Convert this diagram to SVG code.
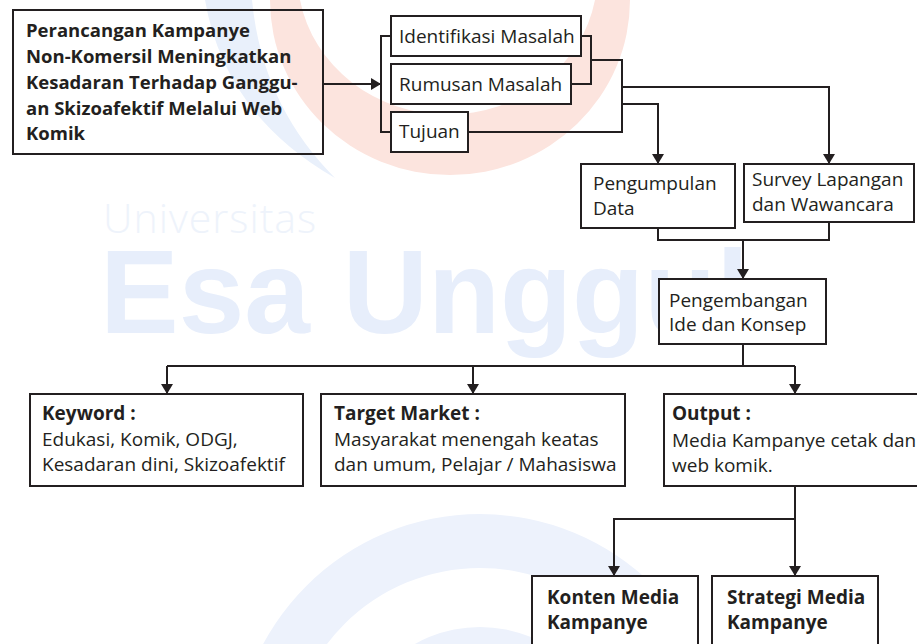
<svg xmlns="http://www.w3.org/2000/svg" width="917" height="644" viewBox="0 0 917 644">
  <defs>
    <marker id="arrow" markerUnits="userSpaceOnUse" markerWidth="12" markerHeight="12" refX="10" refY="6" orient="auto">
      <path d="M0,0 L10,6 L0,12 Z" fill="#231f20"/>
    </marker>
    <style>
      .box { fill: #ffffff; stroke: #231f20; stroke-width: 2; }
      .open { fill: none; stroke: #231f20; stroke-width: 2; }
      .ln { fill: none; stroke: #231f20; stroke-width: 2; }
      .arr { marker-end: url(#arrow); }
      .t { font-family: "Open Sans", "Noto Sans", "DejaVu Sans", sans-serif; font-size: 19px; fill: #231f20; }
      .b { font-weight: bold; }
      .title { font-size: 18.5px; }
    </style>
  </defs>
  <rect width="917" height="644" fill="#ffffff"/>

  <!-- faint watermark -->
  <g id="watermark">
    <path d="M270,0 A180,175 0 0 0 630,0 L595,0 A150,140 0 0 1 300,0 Z" fill="#fce4de"/>
    <path d="M205,0 Q225,115 335,178 Q262,105 252,0 Z" fill="#e9f0fb"/>
    <path d="M234,760 A246,246 0 0 1 726,760 L672,760 A192,192 0 0 0 288,760 Z" fill="#edf2fc"/>
    <path d="M347,760 A133,133 0 0 1 613,760 L573,760 A93,93 0 0 0 387,760 Z" fill="#edf2fc"/>
    <text font-family="'Liberation Sans', Arial, sans-serif"><tspan x="103" y="233" font-family="'Open Sans', 'Noto Sans', sans-serif" font-size="41" font-weight="300" letter-spacing="1" fill="#eef3fb">Universitas </tspan><tspan x="100" y="333" font-size="118" font-weight="bold" fill="#e7eefb">Esa Unggul</tspan></text>
  </g>

  <!-- connectors -->
  <g id="connectors">
    <path class="ln arr" d="M323,84 H381"/>
    <path class="ln" d="M391,36 H381 V132 H391"/>
    <path class="ln" d="M581,36 H591 V84 H571"/>
    <path class="ln" d="M591,60 H622 V132 H468"/>
    <path class="ln arr" d="M622,87 H829 V164"/>
    <path class="ln arr" d="M622,104 H658 V164"/>
    <path class="ln" d="M658,228 V240 H829 V222"/>
    <path class="ln arr" d="M743,240 V279"/>
    <path class="ln" d="M743,344 V366"/>
    <path class="ln" d="M167,366 H795"/>
    <path class="ln arr" d="M167,366 V394"/>
    <path class="ln arr" d="M473,366 V394"/>
    <path class="ln arr" d="M795,366 V394"/>
    <path class="ln arr" d="M795,486 V576"/>
    <path class="ln arr" d="M795,519 H614 V576"/>
  </g>

  <g id="node-judul">
    <rect class="open" x="13" y="10" width="310" height="144"/>
    <text class="t b title" x="26" y="36.5">Perancangan Kampanye</text>
    <text class="t b title" x="26" y="62.5">Non-Komersil Meningkatkan</text>
    <text class="t b title" x="26" y="88.5">Kesadaran Terhadap Ganggu-</text>
    <text class="t b title" x="26" y="114.5">an Skizoafektif Melalui Web</text>
    <text class="t b title" x="26" y="140">Komik</text>
  </g>

  <g id="node-identifikasi">
    <rect class="box" x="391" y="16" width="190" height="40"/>
    <text class="t" x="399" y="43">Identifikasi Masalah</text>
  </g>
  <g id="node-rumusan">
    <rect class="box" x="391" y="64" width="180" height="40"/>
    <text class="t" x="399" y="91">Rumusan Masalah</text>
  </g>
  <g id="node-tujuan">
    <rect class="box" x="391" y="112" width="77" height="40"/>
    <text class="t" x="399" y="138">Tujuan</text>
  </g>

  <g id="node-pengumpulan">
    <rect class="box" x="581" y="164" width="154" height="64"/>
    <text class="t" x="593" y="190">Pengumpulan</text>
    <text class="t" x="593" y="215">Data</text>
  </g>
  <g id="node-survey">
    <rect class="box" x="744" y="164" width="170" height="58"/>
    <text class="t" x="752" y="186">Survey Lapangan</text>
    <text class="t" x="752" y="211">dan Wawancara</text>
  </g>

  <g id="node-pengembangan">
    <rect class="box" x="659" y="279" width="167" height="65"/>
    <text class="t" x="669" y="306.5">Pengembangan</text>
    <text class="t" x="669" y="331">Ide dan Konsep</text>
  </g>

  <g id="node-keyword">
    <rect class="box" x="30" y="394" width="273" height="92"/>
    <text class="t b" x="42" y="419.5">Keyword :</text>
    <text class="t" x="42" y="446">Edukasi, Komik, ODGJ,</text>
    <text class="t" x="42" y="471">Kesadaran dini, Skizoafektif</text>
  </g>
  <g id="node-target">
    <rect class="box" x="321" y="394" width="304" height="92"/>
    <text class="t b" x="334" y="419.5">Target Market :</text>
    <text class="t" x="334" y="446">Masyarakat menengah keatas</text>
    <text class="t" x="334" y="471">dan umum, Pelajar / Mahasiswa</text>
  </g>
  <g id="node-output">
    <rect class="box" x="664" y="394" width="270" height="92"/>
    <text class="t b" x="672" y="420">Output :</text>
    <text class="t" x="672" y="447">Media Kampanye cetak dan</text>
    <text class="t" x="672" y="471.5">web komik.</text>
  </g>

  <g id="node-konten">
    <rect class="box" x="532" y="576" width="166" height="100"/>
    <text class="t b" x="547" y="604">Konten Media</text>
    <text class="t b" x="547" y="629">Kampanye</text>
  </g>
  <g id="node-strategi">
    <rect class="box" x="712" y="576" width="166" height="100"/>
    <text class="t b" x="727" y="604">Strategi Media</text>
    <text class="t b" x="727" y="629">Kampanye</text>
  </g>
</svg>
